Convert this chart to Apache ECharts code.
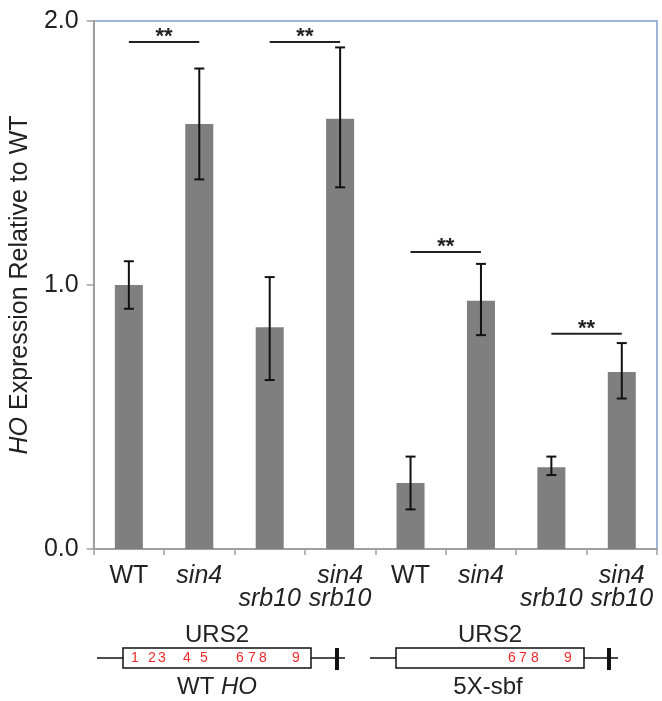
<!DOCTYPE html>
<html>
<head>
<meta charset="utf-8">
<script src="https://cdn.jsdelivr.net/npm/echarts@6/dist/echarts.min.js"></script>
<style>
html,body{margin:0;padding:0;background:#fff;}
#chart{width:662px;height:701px;}
</style>
</head>
<body>
<div id="chart"></div>
<script>
// ---- data ----
const categories = ['WT', 'sin4', 'srb10', 'sin4\nsrb10', 'WT', 'sin4', 'srb10', 'sin4\nsrb10'];
const values  = [1.00, 1.61, 0.84, 1.63, 0.25, 0.94, 0.31, 0.67];
const errLow  = [0.91, 1.40, 0.64, 1.37, 0.15, 0.81, 0.28, 0.57];
const errHigh = [1.09, 1.82, 1.03, 1.90, 0.35, 1.08, 0.35, 0.78];
const sigFrom = [0, 2, 4, 6];
const sigTo   = [1, 3, 5, 7];
const sigY    = [1.92, 1.92, 1.125, 0.815];
const yTicks  = [0, 1, 2];

const FONT = 'Liberation Sans, Arial, sans-serif';
const FS = 25;
const chart = echarts.init(document.getElementById('chart'), null, {renderer: 'canvas'});

const errData = values.map((v, i) => [i, errLow[i], errHigh[i]]);
const sigData = sigFrom.map((f, i) => [f, sigTo[i], sigY[i]]);

function diagramElements(x0, rectL, rectR, x1, barX, labelX, labelRich, nums) {
  const y = 658;
  const els = [
    {type: 'line', shape: {x1: x0, y1: y, x2: rectL, y2: y}, style: {stroke: '#111', lineWidth: 1.5}},
    {type: 'rect', shape: {x: rectL, y: 648, width: rectR - rectL, height: 20}, style: {fill: '#fff', stroke: '#111', lineWidth: 1.5}},
    {type: 'line', shape: {x1: rectR, y1: y, x2: x1, y2: y}, style: {stroke: '#111', lineWidth: 1.5}},
    {type: 'rect', shape: {x: barX - 2, y: 648, width: 4, height: 22}, style: {fill: '#111'}},
    {type: 'text', x: (rectL + rectR) / 2, y: 635, style: {text: 'URS2', font: '24px ' + FONT, fill: '#222', align: 'center', verticalAlign: 'middle'}},
    {type: 'text', x: labelX, y: 687, style: {text: labelRich, align: 'center', verticalAlign: 'middle', fill: '#222', font: '24px ' + FONT,
      rich: {n: {fontSize: 24, fontFamily: FONT, color: '#222'}, i: {fontSize: 24, fontFamily: FONT, fontStyle: 'italic', color: '#222'}}}}
  ];
  nums.forEach(([t, x]) => {
    els.push({type: 'text', x: x, y: y, style: {text: t, font: '14px ' + FONT, fill: '#ee2a2a', align: 'center', verticalAlign: 'middle'}});
  });
  return els;
}

const graphics = [].concat(
  diagramElements(97, 123, 311, 345, 337, 217, '{n|WT }{i|HO}',
    [['1',135],['2',152],['3',162],['4',187],['5',204],['6',240],['7',252],['8',263],['9',296]]),
  diagramElements(370, 396, 584, 618, 609, 488, '{n|5X-sbf}',
    [['6',512],['7',523],['8',535],['9',568]])
);

const option = {
  animation: false,
  backgroundColor: '#fff',
  grid: {left: 92, right: 5, top: 21, bottom: 152, show: true, borderColor: '#7f9ccb', borderWidth: 1.5, containLabel: false},
  xAxis: {
    type: 'category',
    data: categories,
    boundaryGap: true,
    axisLine: {lineStyle: {color: '#a0a0a0', width: 2}},
    axisTick: {show: true, length: 6, lineStyle: {color: '#a0a0a0', width: 1.5}},
    axisLabel: {
      margin: 16,
      interval: 0,
      formatter: function (v) {
        if (v === 'WT') return '{n|WT}';
        if (v === 'srb10') return '{i|\u00a0}\n{i|srb10}';
        return v.split('\n').map(s => '{i|' + s + '}').join('\n');
      },
      rich: {
        n: {fontSize: FS, fontFamily: FONT, color: '#222', lineHeight: 23},
        i: {fontSize: FS, fontFamily: FONT, color: '#222', fontStyle: 'italic', lineHeight: 23}
      }
    }
  },
  yAxis: {
    type: 'value',
    min: yTicks[0], max: yTicks[yTicks.length - 1], interval: 1,
    splitLine: {show: false},
    axisLine: {show: true, lineStyle: {color: '#a0a0a0', width: 2}},
    axisTick: {show: true, length: 7, lineStyle: {color: '#a0a0a0', width: 1.5}},
    axisLabel: {margin: 15, fontSize: FS, fontFamily: FONT, color: '#222', formatter: v => v.toFixed(1)},
    name: '{i|HO}{n| Expression Relative to WT}',
    nameLocation: 'middle',
    nameGap: 55,
    nameTextStyle: {
      rich: {
        n: {fontSize: FS, fontFamily: FONT, color: '#222'},
        i: {fontSize: FS, fontFamily: FONT, color: '#222', fontStyle: 'italic'}
      }
    }
  },
  series: [
    {
      type: 'bar',
      data: values,
      barWidth: 28,
      itemStyle: {color: '#7f7f7f'},
      z: 2
    },
    {
      type: 'custom',
      data: errData,
      encode: {x: 0, y: [1, 2]},
      z: 3,
      renderItem: function (params, api) {
        const i = api.value(0);
        const lo = api.coord([i, api.value(1)]);
        const hi = api.coord([i, api.value(2)]);
        const w = 5;
        const st = {stroke: '#111', lineWidth: 2};
        return {type: 'group', children: [
          {type: 'line', shape: {x1: lo[0], y1: lo[1], x2: hi[0], y2: hi[1]}, style: st},
          {type: 'line', shape: {x1: lo[0] - w, y1: lo[1], x2: lo[0] + w, y2: lo[1]}, style: st},
          {type: 'line', shape: {x1: hi[0] - w, y1: hi[1], x2: hi[0] + w, y2: hi[1]}, style: st}
        ]};
      }
    },
    {
      type: 'custom',
      data: sigData,
      encode: {x: [0, 1], y: 2},
      z: 3,
      renderItem: function (params, api) {
        const a = api.coord([api.value(0), api.value(2)]);
        const b = api.coord([api.value(1), api.value(2)]);
        return {type: 'group', children: [
          {type: 'line', shape: {x1: a[0], y1: a[1], x2: b[0], y2: b[1]}, style: {stroke: '#222', lineWidth: 2}},
          {type: 'text', x: (a[0] + b[0]) / 2, y: a[1] + 6, style: {text: '**', font: 'bold 22px ' + FONT, fill: '#222', align: 'center', verticalAlign: 'bottom'}}
        ]};
      }
    }
  ],
  graphic: graphics
};
chart.setOption(option);
</script>
</body>
</html>
